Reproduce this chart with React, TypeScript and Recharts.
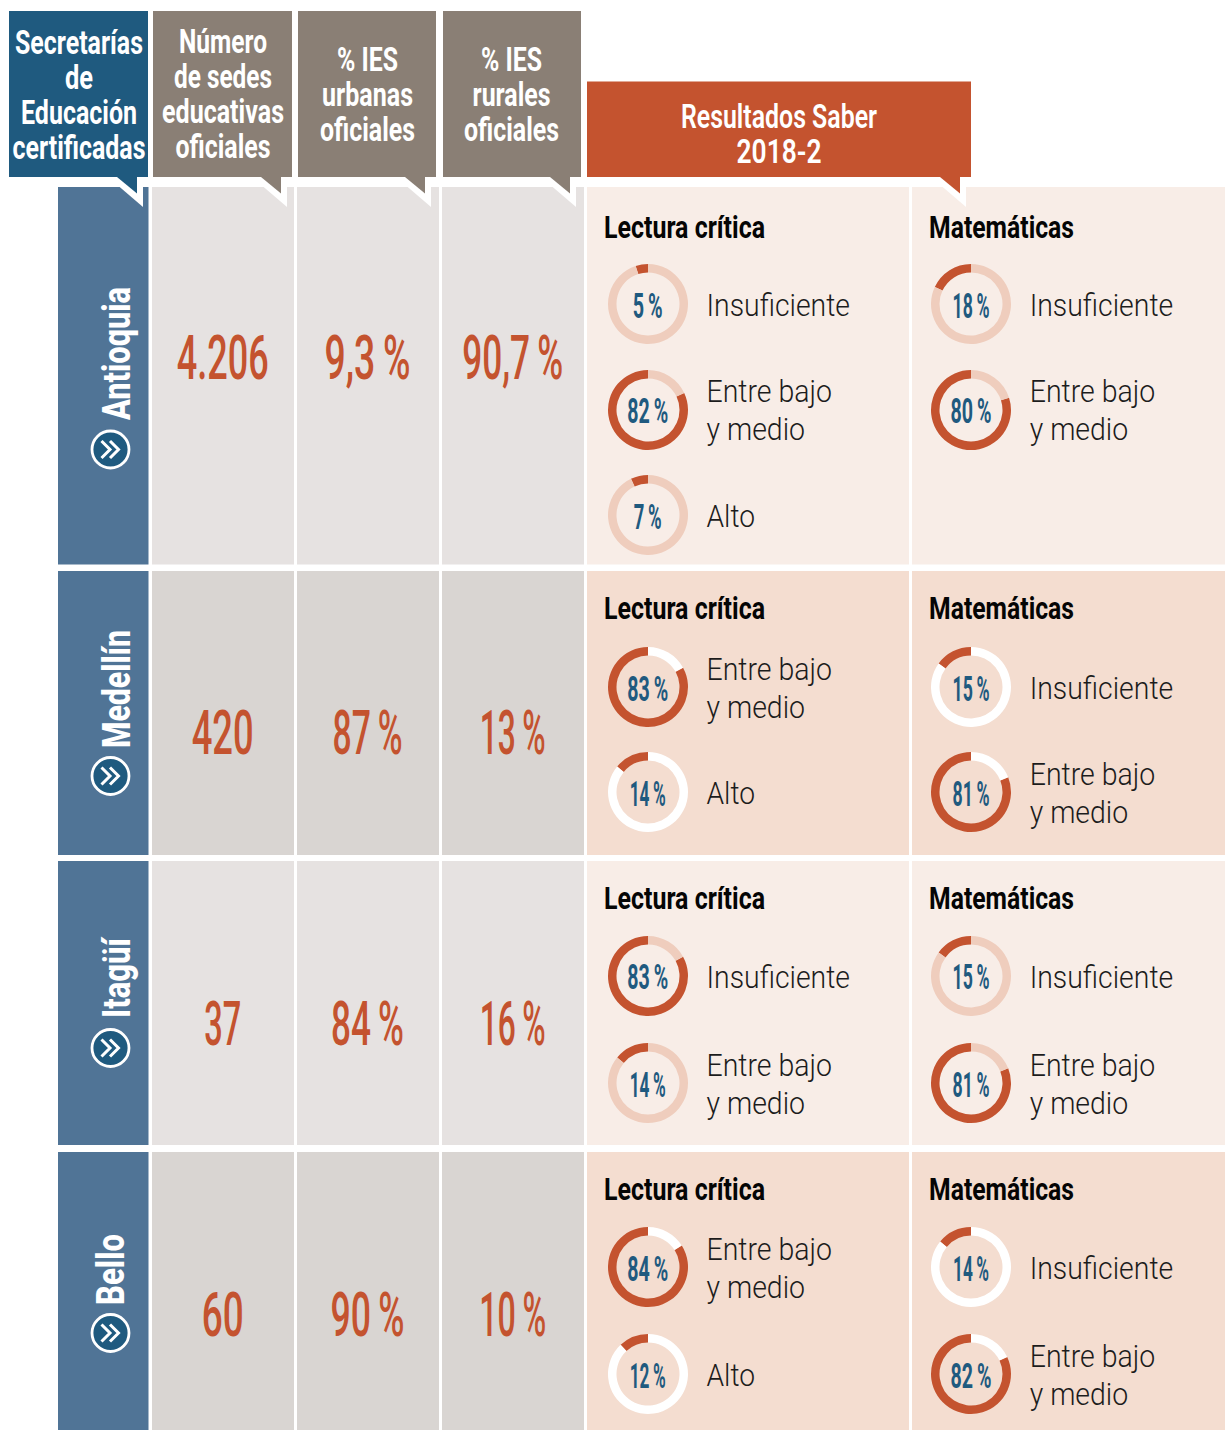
import React from 'react';
import { PieChart, Pie, Cell } from 'recharts';

// ---- data ----
const regions = ['Antioquia', 'Medellín', 'Itagüí', 'Bello'];
const sedes = ['4.206', '420', '37', '60'];
const urbanas = ['9,3 %', '87 %', '84 %', '90 %'];
const rurales = ['90,7 %', '13 %', '16 %', '10 %'];
const LEVEL_LOW = 'Insuficiente';
const LEVEL_MID = 'Entre bajo|y medio';
const LEVEL_HIGH = 'Alto';
const lecturaLevels = [[LEVEL_LOW, LEVEL_MID, LEVEL_HIGH], [LEVEL_MID, LEVEL_HIGH], [LEVEL_LOW, LEVEL_MID], [LEVEL_MID, LEVEL_HIGH]];
const lecturaValues = [[5, 82, 7], [83, 14], [83, 14], [84, 12]];
const mateLevels = [[LEVEL_LOW, LEVEL_MID], [LEVEL_LOW, LEVEL_MID], [LEVEL_LOW, LEVEL_MID], [LEVEL_LOW, LEVEL_MID]];
const mateValues = [[18, 80], [15, 81], [15, 81], [14, 82]];

// ---- layout & style ----
const BLUE = '#1f5a7f';
const REGION = '#507496';
const BROWN = '#8a7f75';
const ORANGE = '#c4532f';
const rows = [
  { top: 187, bottom: 564.5, base: 378.7, title: 238, cy: [304, 409.5, 515], light: true },
  { top: 571, bottom: 855, base: 753.7, title: 619, cy: [687, 792], light: false },
  { top: 861, bottom: 1145, base: 1044.7, title: 909, cy: [975.5, 1083], light: true },
  { top: 1152, bottom: 1430, base: 1335.7, title: 1200, cy: [1267, 1374], light: false },
];
const dataCols = [
  { x: 152, w: 142, cx: 222.7 },
  { x: 297, w: 142, cx: 367.5 },
  { x: 442, w: 142, cx: 512.7 },
];
const CX_L = 647.7;
const CX_M = 971;
const valueWidths: Record<string, number> = {
  '4.206': 92, '420': 62, '37': 37, '60': 42, '9,3 %': 86, '87 %': 70, '84 %': 73, '90 %': 74,
  '90,7 %': 101, '13 %': 66, '16 %': 66, '10 %': 67,
};
const regionGeom = [
  { w: 133, base: 130, mid: 353.5, iy: 449.5 },
  { w: 118, base: 130, mid: 689, iy: 776 },
  { w: 80, base: 130, mid: 978, iy: 1048 },
  { w: 71, base: 124, mid: 1269.5, iy: 1333 },
];
const donutLabelW: Record<number, number> = { 5: 30, 7: 28, 18: 37, 82: 41, 80: 41, 83: 41, 84: 41, 14: 36, 15: 37, 81: 37, 12: 36 };

const FONT = 'Roboto, sans-serif';
const THIN = '\u2009';

function T({ x, y, w, size, weight = 400, fill, anchor = 'middle', children, transform }: any) {
  return (
    <text x={x} y={y} fontFamily={FONT} fontSize={size} fontWeight={weight} fill={fill} textAnchor={anchor}
      textLength={w} lengthAdjust="spacingAndGlyphs" transform={transform}>{children}</text>
  );
}

function Head({ x, w, fill }: { x: number; w: number; fill: string }) {
  const r = x + w;
  return (
    <g>
      <polygon points={`${r - 40},177 ${r - 5},207 ${r - 5},177`} fill="#fff" />
      <rect x={x} y={11} width={w} height={166} fill={fill} />
      <polygon points={`${r - 31},177 ${r - 11},193.5 ${r - 11},177`} fill={fill} />
    </g>
  );
}

function Donut({ cx, cy, value, track }: { cx: number; cy: number; value: number; track: string }) {
  const data = [{ name: 'a', v: value }, { name: 'b', v: 100 - value }];
  return (
    <div style={{ position: 'absolute', left: cx - 42, top: cy - 42, width: 84, height: 84 }}>
      <PieChart width={84} height={84} margin={{ top: 0, right: 0, bottom: 0, left: 0 }}>
        <Pie data={data} dataKey="v" cx={42} cy={42} innerRadius={31.5} outerRadius={40} startAngle={90} endAngle={450}
          stroke="none" isAnimationActive={false} paddingAngle={0}>
          <Cell fill={ORANGE} />
          <Cell fill={track} />
        </Pie>
      </PieChart>
    </div>
  );
}

function Level({ x, cy, label }: { x: number; cy: number; label: string }) {
  const c = '#1c1c1c';
  if (label.includes('|')) {
    const [a, b] = label.split('|');
    return (
      <g>
        <T x={x} y={cy - 7.5} w={125.5} size={32} weight={300} fill={c} anchor="start">{a}</T>
        <T x={x} y={cy + 30.5} w={98.5} size={32} weight={300} fill={c} anchor="start">{b}</T>
      </g>
    );
  }
  return <T x={x} y={cy + 12} w={label === LEVEL_LOW ? 143.5 : 48.5} size={32} weight={300} fill={c} anchor="start">{label}</T>;
}

function Center({ cx, cy, value }: { cx: number; cy: number; value: number }) {
  return <T x={cx} y={cy + 13.5} w={donutLabelW[value]} size={35} weight={700} fill={BLUE}>{`${value}${THIN}%`}</T>;
}

const headerLines = [
  { cx: 79, lines: [['Secretarías', 54, 128], ['de', 89, 28], ['Educación', 124, 116], ['certificadas', 159, 133]] },
  { cx: 223, lines: [['Número', 53, 88], ['de sedes', 88, 98], ['educativas', 123, 122], ['oficiales', 158, 95]] },
  { cx: 367.5, lines: [['% IES', 71, 61], ['urbanas', 106, 91], ['oficiales', 141, 95]] },
  { cx: 511.5, lines: [['% IES', 71, 61], ['rurales', 106, 78], ['oficiales', 141, 95]] },
  { cx: 779, lines: [['Resultados Saber', 127.5, 196], ['2018-2', 162.5, 85]] },
];

export default function App() {
  return (
    <div style={{ position: 'absolute', left: 0, top: 0, width: 1225, height: 1430, background: '#fff', overflow: 'hidden' }}>
      <svg width={1225} height={1430} style={{ position: 'absolute', left: 0, top: 0 }}>
        {rows.map((r, i) => {
          const h = r.bottom - r.top;
          const iy = regionGeom[i].iy;
          return (
            <g key={i}>
              <rect x={58} y={r.top} width={90.5} height={h} fill={REGION} />
              {dataCols.map((c, j) => (
                <rect key={j} x={c.x} y={r.top} width={c.w} height={h} fill={r.light ? '#e6e2e1' : '#d9d5d2'} />
              ))}
              <rect x={587} y={r.top} width={322} height={h} fill={r.light ? '#f8ede7' : '#f4ddd0'} />
              <rect x={912} y={r.top} width={313} height={h} fill={r.light ? '#f8ede7' : '#f4ddd0'} />
              <T x={0} y={0} w={regionGeom[i].w} size={39} weight={800} fill="#fff"
                transform={`translate(${regionGeom[i].base},${regionGeom[i].mid}) rotate(-90)`}>{regions[i]}</T>
              <circle cx={110.5} cy={iy} r={18.5} fill={BLUE} stroke="#fff" strokeWidth={2.8} />
              <path d={`M${101.5},${iy - 8.5} L${110},${iy} L${101.5},${iy + 8.5} M${110},${iy - 8.5} L${118.5},${iy} L${110},${iy + 8.5}`}
                fill="none" stroke="#fff" strokeWidth={3} />
              {[sedes[i], urbanas[i], rurales[i]].map((v, j) => (
                <T key={j} x={dataCols[j].cx} y={r.base} w={valueWidths[v]} size={61} weight={500} fill={ORANGE}>{v.replace(' ', THIN)}</T>
              ))}
              <T x={604} y={r.title} w={161} size={32} weight={700} fill="#050505" anchor="start">Lectura crítica</T>
              <T x={929} y={r.title} w={145} size={32} weight={700} fill="#050505" anchor="start">Matemáticas</T>
              {lecturaValues[i].map((v, k) => (
                <g key={k}>
                  <Center cx={CX_L} cy={r.cy[k]} value={v} />
                  <Level x={706.5} cy={r.cy[k]} label={lecturaLevels[i][k]} />
                </g>
              ))}
              {mateValues[i].map((v, k) => (
                <g key={k}>
                  <Center cx={CX_M} cy={r.cy[k]} value={v} />
                  <Level x={1029.7} cy={r.cy[k]} label={mateLevels[i][k]} />
                </g>
              ))}
            </g>
          );
        })}
        <Head x={9} w={139} fill={BLUE} />
        <Head x={153} w={139} fill={BROWN} />
        <Head x={298} w={138} fill={BROWN} />
        <Head x={443} w={138} fill={BROWN} />
        <g>
          <polygon points="931,177 966,207 966,177" fill="#fff" />
          <rect x={587} y={81.5} width={384} height={95.5} fill={ORANGE} />
          <polygon points="940,177 960,193.5 960,177" fill={ORANGE} />
        </g>
        {headerLines.map((h, i) => (
          <g key={i}>
            {h.lines.map((l, j) => (
              <T key={j} x={h.cx} y={l[1]} w={l[2]} size={32.5} weight={i === 4 ? 600 : 700} fill="#fff">{l[0]}</T>
            ))}
          </g>
        ))}
      </svg>
      {rows.map((r, i) => (
        <React.Fragment key={i}>
          {lecturaValues[i].map((v, k) => (
            <Donut key={`l${k}`} cx={CX_L} cy={r.cy[k]} value={v} track={r.light ? '#efcdbd' : '#ffffff'} />
          ))}
          {mateValues[i].map((v, k) => (
            <Donut key={`m${k}`} cx={CX_M} cy={r.cy[k]} value={v} track={r.light ? '#efcdbd' : '#ffffff'} />
          ))}
        </React.Fragment>
      ))}
    </div>
  );
}
